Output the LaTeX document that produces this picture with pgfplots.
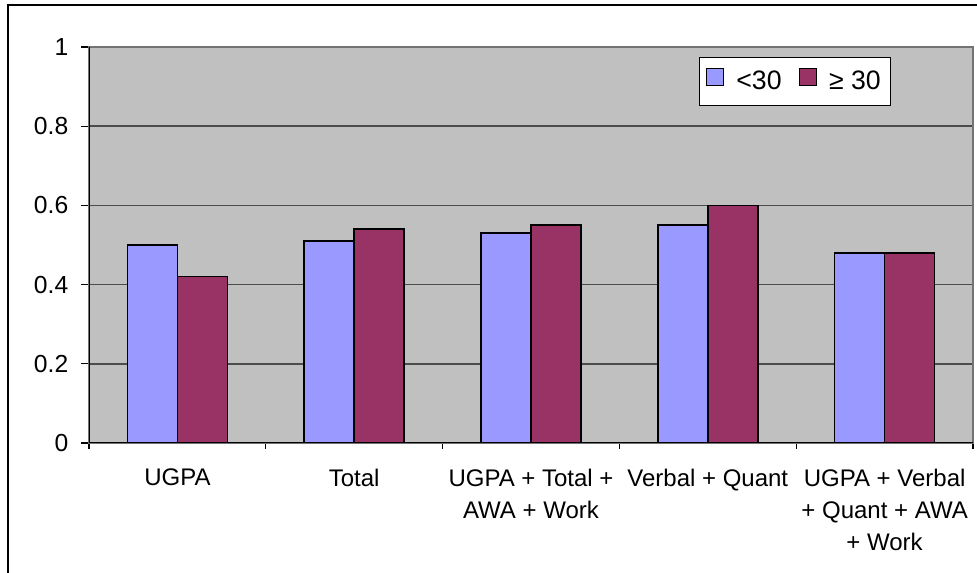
\documentclass[border=0pt]{standalone}
\usepackage{fontspec}
\setmainfont{Liberation Sans}
\usepackage{pgfplots}
\pgfplotsset{compat=1.18}
\definecolor{cblue}{HTML}{9999FF}
\definecolor{cmaroon}{HTML}{993366}
\definecolor{cgray}{HTML}{C0C0C0}
\begin{document}
\begin{tikzpicture}
\useasboundingbox (0,0) rectangle (732.75pt,429.75pt);
\draw[black, line width=0.9pt] (6pt,-10pt) |- (800pt,426pt);
\begin{axis}[
  at={(66.75pt,97.5pt)}, anchor=south west,
  scale only axis, width=663pt, height=297pt,
  font=\fontsize{18}{24}\selectfont,
  /pgf/number format/assume math mode=true,
  axis background/.style={fill=cgray},
  axis line style={draw=black!55, line width=0.9pt},
  xmin=-0.5, xmax=4.5, ymin=0, ymax=1,
  ytick={0,0.2,...,1.0},
  yticklabel={\pgfmathprintnumber{\tick}\hspace*{6pt}},
  yticklabel style={anchor=east, font=\fontsize{18.5}{22}\selectfont},
  xtick={0,...,4},
  xticklabels={UGPA, Total, {UGPA + Total +\\AWA + Work}, Verbal + Quant, {UGPA + Verbal\\+ Quant + AWA\\+ Work}},
  xticklabel style={align=center, yshift=-10pt, font=\fontsize{18}{24}\selectfont},
  major x tick style={draw=none},
  minor xtick={-0.5,0.5,...,4.5},
  tick align=outside, tick pos=left,
  major tick length=6pt, minor tick length=4.5pt,
  tick style={black, line width=0.8pt},
  ymajorgrids, major grid style={black!70, line width=1.2pt},
  ybar=0pt, bar width=37.5pt,
  legend columns=2,
  legend style={at={(0.690,0.975)}, anchor=north west, draw=black, line width=0.8pt,
    fill=white, font=\fontsize{20}{24}\selectfont, inner xsep=5pt, inner ysep=8pt,
    /tikz/every odd column/.append style={column sep=7pt},
    /tikz/every even column/.append style={column sep=11pt}},
  legend image code/.code={\draw[#1, line width=0.9pt] (0pt,-3.2pt) rectangle (12.75pt,9.55pt);},
]
\addplot[fill=cblue, draw=black, line width=1.2pt] coordinates {(0,0.50) (1,0.51) (2,0.53) (3,0.55) (4,0.48)};
\addplot[fill=cmaroon, draw=black, line width=1.2pt] coordinates {(0,0.42) (1,0.54) (2,0.55) (3,0.60) (4,0.48)};
\legend{<30, ≥ 30}
\draw[black, line width=0.9pt] (rel axis cs:0,1) -- (rel axis cs:0,0) -- (rel axis cs:1,0);
\end{axis}
\end{tikzpicture}
\end{document}
